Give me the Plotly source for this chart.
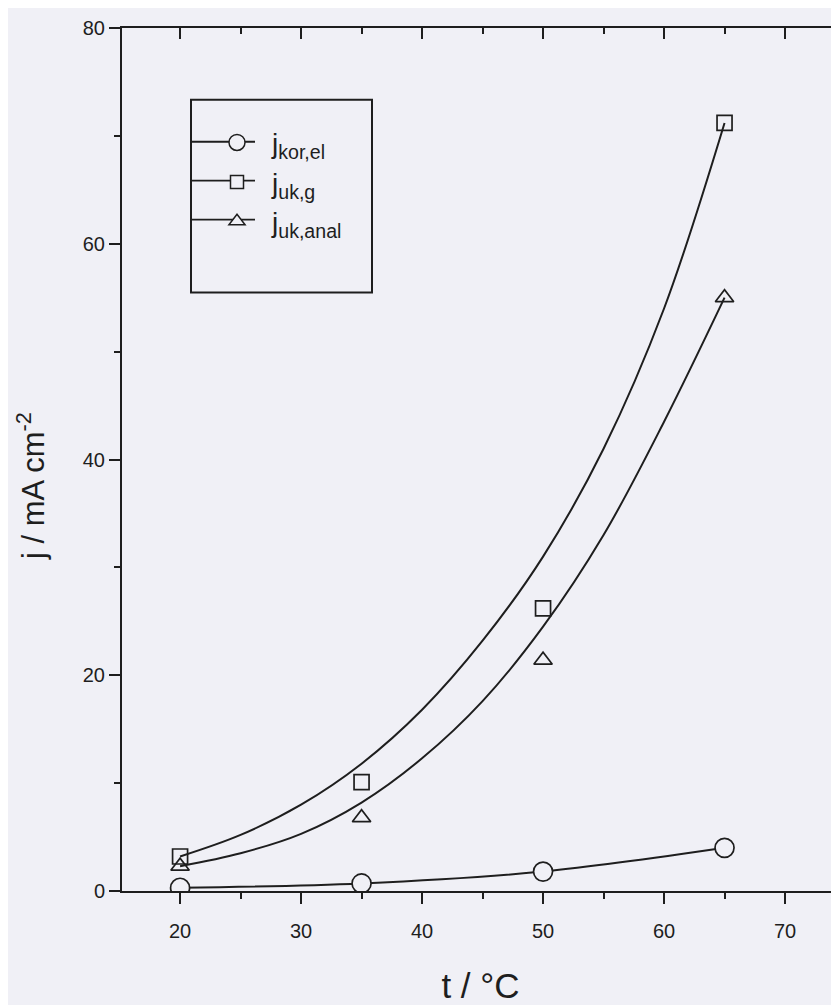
import plotly.graph_objects as go

# measured points
t_pts = [20, 35, 50, 65]
j_kor_el = [0.3, 0.7, 1.8, 4.0]
j_uk_g = [3.2, 10.1, 26.2, 71.2]
j_uk_anal = [2.3, 6.8, 21.4, 55.0]

# fitted curves
t_fit = [20, 25, 30, 35, 40, 45, 50, 55, 60, 65]
fit_uk_g = [3.2, 5.2, 8.0, 11.8, 16.8, 23.2, 31.0, 41.0, 54.0, 71.2]
fit_uk_anal = [2.3, 3.5, 5.3, 8.2, 12.3, 17.6, 24.5, 33.0, 43.5, 55.0]

x_ticks = [20, 30, 40, 50, 60, 70]
y_ticks = [0, 20, 40, 60, 80]

BG = "#f0f0f6"
INK = "#1e1e1e"
FONT = "Liberation Sans, Arial, sans-serif"

fig = go.Figure()

fig.add_trace(go.Scatter(x=t_fit, y=fit_uk_g, mode="lines",
                         line=dict(color=INK, width=2, shape="spline", smoothing=1.0),
                         showlegend=False, hoverinfo="skip"))
fig.add_trace(go.Scatter(x=t_fit, y=fit_uk_anal, mode="lines",
                         line=dict(color=INK, width=2, shape="spline", smoothing=1.0),
                         showlegend=False, hoverinfo="skip"))
fig.add_trace(go.Scatter(x=t_pts, y=j_kor_el, mode="lines+markers",
                         line=dict(color=INK, width=2, shape="spline"),
                         marker=dict(symbol="circle", size=19, color=BG, line=dict(color=INK, width=1.7)),
                         showlegend=False))
fig.add_trace(go.Scatter(x=t_pts, y=j_uk_g, mode="markers",
                         marker=dict(symbol="square", size=15, color="rgba(0,0,0,0)", line=dict(color=INK, width=1.7)),
                         showlegend=False))
fig.add_trace(go.Scatter(x=t_pts, y=j_uk_anal, mode="markers",
                         marker=dict(symbol="triangle-up", size=16, color="rgba(0,0,0,0)", line=dict(color=INK, width=1.7)),
                         showlegend=False))

# legend entries (markers; the connecting strokes are drawn as shapes behind them)
for name, sym, sz in [("j<sub>kor,el</sub>", "circle", 16), ("j<sub>uk,g</sub>", "square", 13),
                      ("j<sub>uk,anal</sub>", "triangle-up", 14)]:
    fig.add_trace(go.Scatter(x=[None], y=[None], mode="markers", name=name,
                             marker=dict(symbol=sym, size=sz, color=BG, line=dict(color=INK, width=1.5))))

# top axis carrier
fig.add_trace(go.Scatter(x=[None], y=[None], xaxis="x2", showlegend=False, hoverinfo="skip"))

OFF = 8  # page body margin
W, H = 839 - OFF, 1005 - OFF
ml, mt = 122 - OFF, 28 - OFF
mb = H - (893 - OFF)
mr = 0
PW, PH = W - ml - mr, H - mt - mb


def px_x(px):
    return (px - OFF - ml) / PW


def px_y(py):
    return 1 - (py - OFF - mt) / PH


shapes = [dict(type="rect", xref="paper", yref="paper",
               x0=px_x(191), x1=px_x(372), y0=px_y(293), y1=px_y(100),
               line=dict(color=INK, width=2))]
for ry in (142, 181, 220):
    shapes.append(dict(type="line", xref="paper", yref="paper",
                       x0=px_x(191), x1=px_x(255), y0=px_y(ry), y1=px_y(ry),
                       line=dict(color=INK, width=1.8)))

fig.update_layout(
    width=W, height=H,
    margin=dict(l=ml, r=mr, t=mt, b=mb),
    paper_bgcolor=BG, plot_bgcolor=BG,
    font=dict(family=FONT, color=INK, size=20),
    xaxis=dict(range=[15.2, 74.46], tickvals=x_ticks, ticks="outside", ticklen=11, tickwidth=2,
               showline=True, linecolor=INK, linewidth=2, showgrid=False, zeroline=False,
               minor=dict(dtick=5, tick0=0, ticks="outside", ticklen=6, tickwidth=2, tickcolor=INK),
               tickcolor=INK, tickfont=dict(size=20), ticklabelstandoff=10,
               title=dict(text="t / °C", font=dict(size=35), standoff=38)),
    xaxis2=dict(range=[15.2, 74.46], overlaying="x", side="top", tickvals=x_ticks, ticks="inside",
                ticklen=11, tickwidth=2, tickcolor=INK, showticklabels=False,
                showline=True, linecolor=INK, linewidth=2, showgrid=False, zeroline=False,
                minor=dict(dtick=5, tick0=0, ticks="inside", ticklen=6, tickwidth=2, tickcolor=INK)),
    yaxis=dict(range=[0, 80], tickvals=y_ticks, ticks="outside", ticklen=11, tickwidth=2, tickcolor=INK,
               showline=True, linecolor=INK, linewidth=2, showgrid=False, zeroline=False,
               minor=dict(dtick=10, tick0=0, ticks="outside", ticklen=6, tickwidth=2, tickcolor=INK),
               tickfont=dict(size=20)),
    legend=dict(x=px_x(202), y=px_y(118),
                xanchor="left", yanchor="top", bgcolor="rgba(0,0,0,0)", borderwidth=0,
                font=dict(size=28, family=FONT), itemwidth=60, tracegroupgap=1),
    shapes=shapes,
    annotations=[dict(text="j / mA cm<sup>-2</sup>", textangle=-90, xref="paper", yref="paper",
                      x=px_x(31), y=px_y(487), xanchor="center", yanchor="middle",
                      showarrow=False, font=dict(size=31, family=FONT, color=INK))],
)

fig.write_html("out.html")
